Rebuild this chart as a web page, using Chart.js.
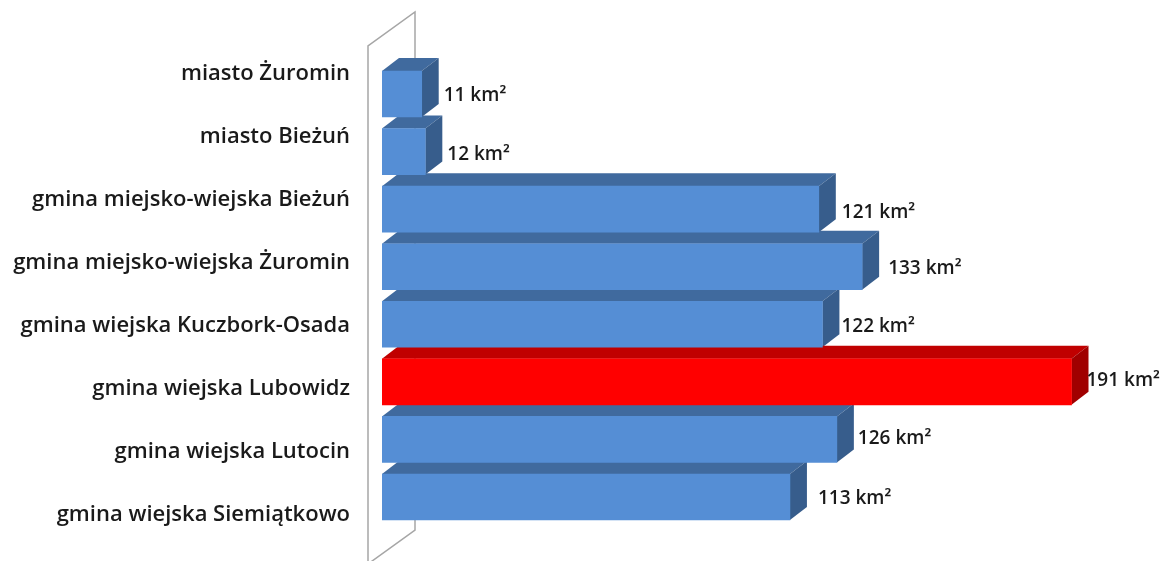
<!DOCTYPE html>
<html>
<head>
    <meta charset="utf-8">
    <title>Powierzchnia gmin</title>
    <script src="https://cdn.jsdelivr.net/npm/chart.js"></script>
    <style>
        html, body { margin: 0; padding: 0; background: #fff; }
        canvas { display: block; }
    </style>
</head>
<body>
    <canvas id="areaChart" width="1160" height="561"></canvas>

    <script>
    const categories = [
        'miasto Żuromin',
        'miasto Bieżuń',
        'gmina miejsko-wiejska Bieżuń',
        'gmina miejsko-wiejska Żuromin',
        'gmina wiejska Kuczbork-Osada',
        'gmina wiejska Lubowidz',
        'gmina wiejska Lutocin',
        'gmina wiejska Siemiątkowo'
    ];
    const areas = [11, 12, 121, 133, 122, 191, 126, 113];
    const unit = 'km²';
    const highlighted = 'gmina wiejska Lubowidz';

    const blue = { front: '#558ed5', top: '#406a9e', side: '#375d8c' };
    const red = { front: '#ff0000', top: '#c00000', side: '#a00000' };
    const colorsFor = i => categories[i] === highlighted ? red : blue;

    // horizontal nudges of the value labels, they do not sit evenly in the original
    const labelGaps = [22, 22, 23, 26, 19, 15, 21, 28];
    const labelDy = [2, 3, 3, 2, 2, -1, -1, 2];
    const depthX = 17, depthY = 13;

    // back wall, bar faces and value labels are not something Chart.js has for bars
    const fake3d = {
        id: 'fake3d',
        beforeDatasetsDraw(chart) {
            const ctx = chart.ctx;
            const x = chart.scales.x;
            const y = chart.scales.yBars;
            const x0 = x.getPixelForValue(0);

            ctx.save();
            ctx.strokeStyle = '#a6a6a6';
            ctx.lineWidth = 1.5;
            ctx.beginPath();
            ctx.moveTo(x0 - 14, 561);
            ctx.lineTo(x0 - 14, y.getPixelForValue(0) - 48);
            ctx.lineTo(x0 + 33, y.getPixelForValue(0) - 82);
            ctx.lineTo(x0 + 33, y.getPixelForValue(7) + 33);
            ctx.lineTo(x0 - 14, y.getPixelForValue(7) + 67);
            ctx.stroke();

            chart.getDatasetMeta(0).data.forEach((bar, i) => {
                const c = colorsFor(i);
                const top = bar.y - bar.height / 2;
                const bottom = bar.y + bar.height / 2;

                ctx.fillStyle = c.top;
                ctx.beginPath();
                ctx.moveTo(x0, top);
                ctx.lineTo(x0 + depthX, top - depthY);
                ctx.lineTo(bar.x + depthX, top - depthY);
                ctx.lineTo(bar.x, top);
                ctx.closePath();
                ctx.fill();

                ctx.fillStyle = c.side;
                ctx.beginPath();
                ctx.moveTo(bar.x, top);
                ctx.lineTo(bar.x + depthX, top - depthY);
                ctx.lineTo(bar.x + depthX, bottom - depthY);
                ctx.lineTo(bar.x, bottom);
                ctx.closePath();
                ctx.fill();
            });
            ctx.restore();
        },
        afterDatasetsDraw(chart) {
            const ctx = chart.ctx;
            ctx.save();
            ctx.font = '600 19px "Open Sans"';
            ctx.fillStyle = '#1a1a1a';
            ctx.textAlign = 'left';
            ctx.textBaseline = 'middle';
            chart.getDatasetMeta(0).data.forEach((bar, i) => {
                ctx.fillText(areas[i] + ' ' + unit, bar.x + labelGaps[i], bar.y + labelDy[i]);
            });
            ctx.restore();
        }
    };

    new Chart(document.getElementById('areaChart').getContext('2d'), {
        type: 'bar',
        plugins: [fake3d],
        data: {
            labels: categories,
            datasets: [{
                data: areas.map((v, i) => ({ x: v, y: i })),
                yAxisID: 'yBars',
                backgroundColor: areas.map((v, i) => colorsFor(i).front),
                barThickness: 46
            }]
        },
        options: {
            indexAxis: 'y',
            responsive: false,
            animation: false,
            layout: { padding: { top: 42, bottom: 15, left: 0, right: 56 } },
            plugins: { legend: { display: false }, tooltip: { enabled: false } },
            scales: {
                x: { display: false, min: 0, max: 200 },
                // labels are spaced wider than the bars in the original, so two axes
                y: {
                    type: 'category',
                    position: 'left',
                    offset: true,
                    border: { display: false },
                    grid: { display: false, drawTicks: false },
                    afterFit(scale) {
                        scale.width = 382;
                        // tick padding would otherwise eat into the plot height
                        scale.paddingTop = 0;
                        scale.paddingBottom = 0;
                    },
                    ticks: {
                        padding: 32,
                        autoSkip: false,
                        color: '#1a1a1a',
                        font: { family: 'Open Sans', size: 22, weight: '600' }
                    }
                },
                yBars: {
                    type: 'linear',
                    display: false,
                    offset: false,
                    reverse: true,
                    min: -0.903,
                    max: 7.851
                }
            }
        }
    });
    </script>
</body>
</html>
